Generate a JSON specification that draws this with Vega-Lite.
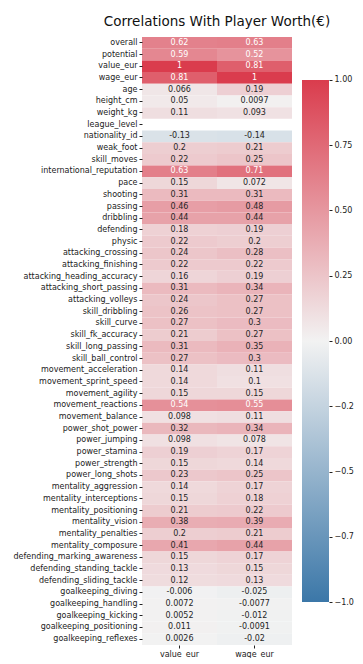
{
  "$schema": "https://vega.github.io/schema/vega-lite/v6.json",
  "padding": {"left": 13, "top": 14, "right": 0, "bottom": 0},
  "background": "white",
  "bounds": "flush",
  "spacing": 10,
  "config": {
    "font": "DejaVu Sans",
    "view": {"stroke": null},
    "axis": {"labelFontSize": 8, "labelColor": "#222222", "tickColor": "#222222", "tickSize": 3, "labelPadding": 2, "domain": false}
  },
  "hconcat": [
    {
      "title": {"text": "Correlations With Player Worth(€)", "fontSize": 13.5, "fontWeight": "normal", "color": "#111111", "anchor": "middle", "offset": 9},
      "width": 150,
      "height": 608,
      "data": {"values": [
        {"f": "overall", "c": "value_eur", "v": 0.62, "t": "0.62"}, {"f": "overall", "c": "wage_eur", "v": 0.63, "t": "0.63"},
        {"f": "potential", "c": "value_eur", "v": 0.59, "t": "0.59"}, {"f": "potential", "c": "wage_eur", "v": 0.52, "t": "0.52"},
        {"f": "value_eur", "c": "value_eur", "v": 1, "t": "1"}, {"f": "value_eur", "c": "wage_eur", "v": 0.81, "t": "0.81"},
        {"f": "wage_eur", "c": "value_eur", "v": 0.81, "t": "0.81"}, {"f": "wage_eur", "c": "wage_eur", "v": 1, "t": "1"},
        {"f": "age", "c": "value_eur", "v": 0.066, "t": "0.066"}, {"f": "age", "c": "wage_eur", "v": 0.19, "t": "0.19"},
        {"f": "height_cm", "c": "value_eur", "v": 0.05, "t": "0.05"}, {"f": "height_cm", "c": "wage_eur", "v": 0.0097, "t": "0.0097"},
        {"f": "weight_kg", "c": "value_eur", "v": 0.11, "t": "0.11"}, {"f": "weight_kg", "c": "wage_eur", "v": 0.093, "t": "0.093"},
        {"f": "nationality_id", "c": "value_eur", "v": -0.13, "t": "-0.13"}, {"f": "nationality_id", "c": "wage_eur", "v": -0.14, "t": "-0.14"},
        {"f": "weak_foot", "c": "value_eur", "v": 0.2, "t": "0.2"}, {"f": "weak_foot", "c": "wage_eur", "v": 0.21, "t": "0.21"},
        {"f": "skill_moves", "c": "value_eur", "v": 0.22, "t": "0.22"}, {"f": "skill_moves", "c": "wage_eur", "v": 0.25, "t": "0.25"},
        {"f": "international_reputation", "c": "value_eur", "v": 0.63, "t": "0.63"}, {"f": "international_reputation", "c": "wage_eur", "v": 0.71, "t": "0.71"},
        {"f": "pace", "c": "value_eur", "v": 0.15, "t": "0.15"}, {"f": "pace", "c": "wage_eur", "v": 0.072, "t": "0.072"},
        {"f": "shooting", "c": "value_eur", "v": 0.31, "t": "0.31"}, {"f": "shooting", "c": "wage_eur", "v": 0.31, "t": "0.31"},
        {"f": "passing", "c": "value_eur", "v": 0.46, "t": "0.46"}, {"f": "passing", "c": "wage_eur", "v": 0.48, "t": "0.48"},
        {"f": "dribbling", "c": "value_eur", "v": 0.44, "t": "0.44"}, {"f": "dribbling", "c": "wage_eur", "v": 0.44, "t": "0.44"},
        {"f": "defending", "c": "value_eur", "v": 0.18, "t": "0.18"}, {"f": "defending", "c": "wage_eur", "v": 0.19, "t": "0.19"},
        {"f": "physic", "c": "value_eur", "v": 0.22, "t": "0.22"}, {"f": "physic", "c": "wage_eur", "v": 0.2, "t": "0.2"},
        {"f": "attacking_crossing", "c": "value_eur", "v": 0.24, "t": "0.24"}, {"f": "attacking_crossing", "c": "wage_eur", "v": 0.28, "t": "0.28"},
        {"f": "attacking_finishing", "c": "value_eur", "v": 0.22, "t": "0.22"}, {"f": "attacking_finishing", "c": "wage_eur", "v": 0.22, "t": "0.22"},
        {"f": "attacking_heading_accuracy", "c": "value_eur", "v": 0.16, "t": "0.16"}, {"f": "attacking_heading_accuracy", "c": "wage_eur", "v": 0.19, "t": "0.19"},
        {"f": "attacking_short_passing", "c": "value_eur", "v": 0.31, "t": "0.31"}, {"f": "attacking_short_passing", "c": "wage_eur", "v": 0.34, "t": "0.34"},
        {"f": "attacking_volleys", "c": "value_eur", "v": 0.24, "t": "0.24"}, {"f": "attacking_volleys", "c": "wage_eur", "v": 0.27, "t": "0.27"},
        {"f": "skill_dribbling", "c": "value_eur", "v": 0.26, "t": "0.26"}, {"f": "skill_dribbling", "c": "wage_eur", "v": 0.27, "t": "0.27"},
        {"f": "skill_curve", "c": "value_eur", "v": 0.27, "t": "0.27"}, {"f": "skill_curve", "c": "wage_eur", "v": 0.3, "t": "0.3"},
        {"f": "skill_fk_accuracy", "c": "value_eur", "v": 0.21, "t": "0.21"}, {"f": "skill_fk_accuracy", "c": "wage_eur", "v": 0.27, "t": "0.27"},
        {"f": "skill_long_passing", "c": "value_eur", "v": 0.31, "t": "0.31"}, {"f": "skill_long_passing", "c": "wage_eur", "v": 0.35, "t": "0.35"},
        {"f": "skill_ball_control", "c": "value_eur", "v": 0.27, "t": "0.27"}, {"f": "skill_ball_control", "c": "wage_eur", "v": 0.3, "t": "0.3"},
        {"f": "movement_acceleration", "c": "value_eur", "v": 0.14, "t": "0.14"}, {"f": "movement_acceleration", "c": "wage_eur", "v": 0.11, "t": "0.11"},
        {"f": "movement_sprint_speed", "c": "value_eur", "v": 0.14, "t": "0.14"}, {"f": "movement_sprint_speed", "c": "wage_eur", "v": 0.1, "t": "0.1"},
        {"f": "movement_agility", "c": "value_eur", "v": 0.15, "t": "0.15"}, {"f": "movement_agility", "c": "wage_eur", "v": 0.15, "t": "0.15"},
        {"f": "movement_reactions", "c": "value_eur", "v": 0.54, "t": "0.54"}, {"f": "movement_reactions", "c": "wage_eur", "v": 0.55, "t": "0.55"},
        {"f": "movement_balance", "c": "value_eur", "v": 0.098, "t": "0.098"}, {"f": "movement_balance", "c": "wage_eur", "v": 0.11, "t": "0.11"},
        {"f": "power_shot_power", "c": "value_eur", "v": 0.32, "t": "0.32"}, {"f": "power_shot_power", "c": "wage_eur", "v": 0.34, "t": "0.34"},
        {"f": "power_jumping", "c": "value_eur", "v": 0.098, "t": "0.098"}, {"f": "power_jumping", "c": "wage_eur", "v": 0.078, "t": "0.078"},
        {"f": "power_stamina", "c": "value_eur", "v": 0.19, "t": "0.19"}, {"f": "power_stamina", "c": "wage_eur", "v": 0.17, "t": "0.17"},
        {"f": "power_strength", "c": "value_eur", "v": 0.15, "t": "0.15"}, {"f": "power_strength", "c": "wage_eur", "v": 0.14, "t": "0.14"},
        {"f": "power_long_shots", "c": "value_eur", "v": 0.23, "t": "0.23"}, {"f": "power_long_shots", "c": "wage_eur", "v": 0.25, "t": "0.25"},
        {"f": "mentality_aggression", "c": "value_eur", "v": 0.14, "t": "0.14"}, {"f": "mentality_aggression", "c": "wage_eur", "v": 0.17, "t": "0.17"},
        {"f": "mentality_interceptions", "c": "value_eur", "v": 0.15, "t": "0.15"}, {"f": "mentality_interceptions", "c": "wage_eur", "v": 0.18, "t": "0.18"},
        {"f": "mentality_positioning", "c": "value_eur", "v": 0.21, "t": "0.21"}, {"f": "mentality_positioning", "c": "wage_eur", "v": 0.22, "t": "0.22"},
        {"f": "mentality_vision", "c": "value_eur", "v": 0.38, "t": "0.38"}, {"f": "mentality_vision", "c": "wage_eur", "v": 0.39, "t": "0.39"},
        {"f": "mentality_penalties", "c": "value_eur", "v": 0.2, "t": "0.2"}, {"f": "mentality_penalties", "c": "wage_eur", "v": 0.21, "t": "0.21"},
        {"f": "mentality_composure", "c": "value_eur", "v": 0.41, "t": "0.41"}, {"f": "mentality_composure", "c": "wage_eur", "v": 0.44, "t": "0.44"},
        {"f": "defending_marking_awareness", "c": "value_eur", "v": 0.15, "t": "0.15"}, {"f": "defending_marking_awareness", "c": "wage_eur", "v": 0.17, "t": "0.17"},
        {"f": "defending_standing_tackle", "c": "value_eur", "v": 0.13, "t": "0.13"}, {"f": "defending_standing_tackle", "c": "wage_eur", "v": 0.15, "t": "0.15"},
        {"f": "defending_sliding_tackle", "c": "value_eur", "v": 0.12, "t": "0.12"}, {"f": "defending_sliding_tackle", "c": "wage_eur", "v": 0.13, "t": "0.13"},
        {"f": "goalkeeping_diving", "c": "value_eur", "v": -0.006, "t": "-0.006"}, {"f": "goalkeeping_diving", "c": "wage_eur", "v": -0.025, "t": "-0.025"},
        {"f": "goalkeeping_handling", "c": "value_eur", "v": 0.0072, "t": "0.0072"}, {"f": "goalkeeping_handling", "c": "wage_eur", "v": -0.0077, "t": "-0.0077"},
        {"f": "goalkeeping_kicking", "c": "value_eur", "v": 0.0052, "t": "0.0052"}, {"f": "goalkeeping_kicking", "c": "wage_eur", "v": -0.012, "t": "-0.012"},
        {"f": "goalkeeping_positioning", "c": "value_eur", "v": 0.011, "t": "0.011"}, {"f": "goalkeeping_positioning", "c": "wage_eur", "v": -0.0091, "t": "-0.0091"},
        {"f": "goalkeeping_reflexes", "c": "value_eur", "v": 0.0026, "t": "0.0026"}, {"f": "goalkeeping_reflexes", "c": "wage_eur", "v": -0.02, "t": "-0.02"}
      ]},
      "encoding": {
        "x": {"field": "c", "type": "nominal", "sort": ["value_eur", "wage_eur"], "axis": {"orient": "bottom", "labelAngle": 0, "title": null}},
        "y": {"field": "f", "type": "nominal", "axis": {"title": null}, "scale": {"domain": ["overall", "potential", "value_eur", "wage_eur", "age", "height_cm", "weight_kg", "league_level", "nationality_id", "weak_foot", "skill_moves", "international_reputation", "pace", "shooting", "passing", "dribbling", "defending", "physic", "attacking_crossing", "attacking_finishing", "attacking_heading_accuracy", "attacking_short_passing", "attacking_volleys", "skill_dribbling", "skill_curve", "skill_fk_accuracy", "skill_long_passing", "skill_ball_control", "movement_acceleration", "movement_sprint_speed", "movement_agility", "movement_reactions", "movement_balance", "power_shot_power", "power_jumping", "power_stamina", "power_strength", "power_long_shots", "mentality_aggression", "mentality_interceptions", "mentality_positioning", "mentality_vision", "mentality_penalties", "mentality_composure", "defending_marking_awareness", "defending_standing_tackle", "defending_sliding_tackle", "goalkeeping_diving", "goalkeeping_handling", "goalkeeping_kicking", "goalkeeping_positioning", "goalkeeping_reflexes"]}}
      },
      "layer": [
        {
          "mark": {"type": "rect"},
          "encoding": {
            "color": {
              "field": "v", "type": "quantitative",
              "scale": {"domain": [-1, 0, 1], "range": ["#3b77a8", "#f2f2f2", "#da3c4d"], "interpolate": "rgb"},
              "legend": null
            }
          }
        },
        {
          "mark": {"type": "text", "fontSize": 8},
          "encoding": {
            "text": {"field": "t", "type": "nominal"},
            "color": {"condition": {"test": "datum.v > 0.5", "value": "#ffffff"}, "value": "#262626"}
          }
        }
      ]
    },
    {
      "width": 27,
      "height": 608,
      "layer": [
        {
          "data": {"values": [{"lo": -1, "hi": 1}]},
          "mark": {"type": "rect", "color": {"gradient": "linear", "x1": 0, "y1": 1, "x2": 0, "y2": 0, "stops": [{"offset": 0, "color": "#3b77a8"}, {"offset": 0.5, "color": "#f2f2f2"}, {"offset": 1, "color": "#da3c4d"}]}},
          "encoding": {
            "y": {"field": "lo", "type": "quantitative", "scale": {"domain": [-1.1648, 1.1648], "nice": false, "zero": false}, "axis": null},
            "y2": {"field": "hi"},
            "x": {"datum": 0, "type": "quantitative", "scale": {"domain": [0, 1], "nice": false}, "axis": null},
            "x2": {"datum": 1}
          }
        },
        {
          "data": {"values": [{"lab": "1.00"}, {"lab": "0.75"}, {"lab": "0.50"}, {"lab": "0.25"}, {"lab": "0.00"}, {"lab": "−0.2"}, {"lab": "−0.5"}, {"lab": "−0.7"}, {"lab": "−1.0"}]},
          "mark": {"type": "tick", "opacity": 0},
          "encoding": {
            "y": {"field": "lab", "type": "ordinal", "scale": {"type": "point", "domain": ["1.00", "0.75", "0.50", "0.25", "0.00", "−0.2", "−0.5", "−0.7", "−1.0"], "padding": 0.659}, "axis": {"orient": "right", "title": null, "labelPadding": 2}}
          }
        }
      ],
      "resolve": {"scale": {"y": "independent"}, "axis": {"y": "independent"}}
    }
  ]
}
